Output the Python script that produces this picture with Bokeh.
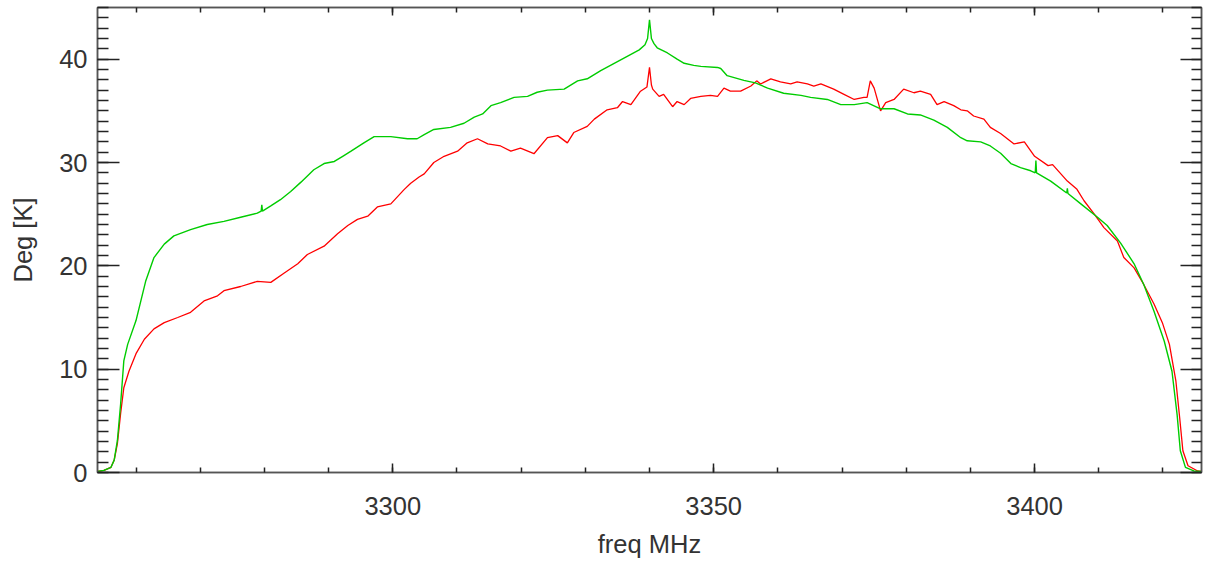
from bokeh.plotting import figure
from bokeh.models import LinearAxis, FixedTicker, Range1d, CustomJSTickFormatter
from bokeh.embed import file_html
from bokeh.resources import INLINE

# ---- data ----
green_freq = [3254.0, 3255.0, 3256.1, 3256.6, 3257.1, 3257.6, 3258.1, 3258.7, 3260.0, 3261.5,
              3262.8, 3264.4, 3265.9, 3268.5, 3271.1, 3273.7, 3276.3, 3278.9, 3279.5, 3279.6,
              3279.7, 3281.0, 3282.5, 3284.1, 3285.7, 3287.7, 3289.3, 3290.9, 3292.2, 3293.5,
              3295.5, 3297.1, 3299.7, 3302.3, 3303.8, 3304.9, 3306.4, 3309.0, 3311.1, 3312.7,
              3314.0, 3315.3, 3316.8, 3318.9, 3321.0, 3322.5, 3324.1, 3326.7, 3328.8, 3330.3,
              3332.4, 3334.5, 3336.6, 3338.4, 3339.3, 3339.7, 3340.0, 3340.3, 3340.7, 3341.2,
              3342.8, 3344.3, 3345.4, 3346.9, 3348.0, 3350.6, 3351.1, 3352.1, 3354.7, 3356.5,
              3358.4, 3360.9, 3363.6, 3365.1, 3367.7, 3369.8, 3371.9, 3373.9, 3376.0, 3378.1,
              3380.2, 3382.2, 3384.3, 3386.4, 3388.5, 3389.5, 3391.6, 3393.1, 3394.7, 3396.3,
              3397.8, 3399.4, 3400.1, 3400.2, 3400.3, 3402.5, 3405.0, 3405.1, 3405.2, 3407.2,
              3409.8, 3411.3, 3413.4, 3415.5, 3417.0, 3418.6, 3420.2, 3421.4, 3422.2, 3422.7,
              3423.5, 3424.8, 3426.0]
green_temp = [0.1, 0.2, 0.5, 1.2, 3.1, 6.6, 10.8, 12.4, 14.7, 18.5,
              20.8, 22.1, 22.9, 23.5, 24.0, 24.3, 24.7, 25.1, 25.3, 25.9,
              25.3, 25.8, 26.4, 27.2, 28.1, 29.3, 29.9, 30.1, 30.6, 31.1,
              31.9, 32.5, 32.5, 32.3, 32.3, 32.7, 33.2, 33.4, 33.8, 34.4,
              34.7, 35.5, 35.8, 36.3, 36.4, 36.8, 37.0, 37.1, 37.9, 38.1,
              38.9, 39.6, 40.3, 40.9, 41.4, 42.0, 43.8, 42.0, 41.5, 41.1,
              40.6, 40.0, 39.6, 39.4, 39.3, 39.2, 39.1, 38.4, 37.95, 37.7,
              37.2, 36.7, 36.5, 36.3, 36.1, 35.6, 35.6, 35.8, 35.2, 35.2,
              34.7, 34.6, 34.1, 33.4, 32.4, 32.1, 32.0, 31.6, 30.9, 29.9,
              29.5, 29.2, 29.0, 30.2, 29.0, 28.2, 27.05, 27.5, 27.0, 26.0,
              24.7, 23.9, 22.2, 20.2, 18.2, 15.6, 12.7, 9.8, 5.6, 2.1,
              0.5, 0.15, 0.1]

red_freq = [3254.0, 3255.0, 3256.1, 3256.6, 3257.1, 3257.6, 3258.1, 3258.9, 3260.0, 3261.3,
            3262.8, 3264.4, 3266.5, 3268.5, 3270.6, 3272.7, 3273.7, 3276.3, 3278.9, 3281.0,
            3283.1, 3285.2, 3286.7, 3289.3, 3291.4, 3293.0, 3294.5, 3296.1, 3297.6, 3299.7,
            3301.8, 3302.8, 3304.1, 3304.9, 3306.4, 3308.0, 3310.1, 3311.6, 3313.2, 3314.8,
            3316.8, 3318.4, 3319.9, 3322.0, 3324.1, 3325.7, 3327.2, 3328.2, 3330.3, 3331.4,
            3333.4, 3335.0, 3335.8, 3337.1, 3338.6, 3339.6, 3340.0, 3340.3, 3340.5, 3341.5,
            3342.2, 3343.6, 3344.3, 3345.4, 3346.4, 3348.0, 3349.5, 3350.6, 3351.6, 3352.6,
            3354.2, 3355.8, 3356.7, 3357.3, 3358.9, 3360.4, 3362.0, 3363.0, 3364.6, 3365.6,
            3366.7, 3368.7, 3370.3, 3371.9, 3373.4, 3373.9, 3374.4, 3375.0, 3376.0, 3376.8,
            3378.1, 3379.6, 3381.2, 3382.2, 3383.8, 3384.8, 3385.9, 3387.4, 3388.5, 3389.5,
            3390.5, 3392.1, 3393.1, 3394.7, 3396.8, 3398.4, 3400.0, 3402.1, 3402.8, 3405.1,
            3406.6, 3407.7, 3409.3, 3410.8, 3412.9, 3413.9, 3415.5, 3417.0, 3418.6, 3419.9,
            3421.0, 3422.0, 3422.6, 3423.1, 3423.9, 3425.4, 3426.0]
red_temp = [0.1, 0.2, 0.5, 1.2, 2.8, 5.7, 8.2, 9.8, 11.5, 12.9,
            13.9, 14.5, 15.0, 15.5, 16.6, 17.1, 17.6, 18.0, 18.5, 18.4,
            19.3, 20.2, 21.1, 21.9, 23.1, 23.9, 24.5, 24.8, 25.7, 26.0,
            27.4, 28.0, 28.6, 28.9, 30.0, 30.6, 31.1, 31.9, 32.3, 31.8,
            31.6, 31.1, 31.4, 30.85, 32.4, 32.6, 31.9, 32.9, 33.5, 34.2,
            35.1, 35.3, 35.9, 35.6, 36.9, 37.3, 39.2, 37.5, 37.1, 36.4,
            36.6, 35.4, 35.9, 35.6, 36.2, 36.4, 36.5, 36.4, 37.2, 36.9,
            36.9, 37.4, 37.9, 37.6, 38.1, 37.8, 37.6, 37.8, 37.6, 37.4,
            37.6, 37.1, 36.6, 36.1, 36.3, 36.3, 37.9, 37.2, 35.0, 35.8,
            36.1, 37.1, 36.75, 36.9, 36.6, 35.6, 35.9, 35.5, 35.1, 35.0,
            34.5, 34.2, 33.4, 32.8, 31.8, 32.0, 30.6, 29.7, 29.8, 28.2,
            27.4, 26.3, 25.0, 23.7, 22.4, 20.8, 19.8, 18.2, 16.3, 14.5,
            12.4, 8.9, 5.3, 2.1, 0.65, 0.15, 0.1]

x_ticks = [3300, 3350, 3400]
x_minor_ticks = [3260, 3270, 3280, 3290, 3300, 3310, 3320, 3330, 3340, 3350,
                 3360, 3370, 3380, 3390, 3400, 3410, 3420]
y_ticks = [0, 10, 20, 30, 40]
y_minor_ticks = list(range(0, 46))

FONT = "Liberation Sans"
FSIZE = "25.5px"
TXT = "#333333"
AX = "#555555"

p = figure(width=1203, height=561, output_backend="svg", toolbar_location=None,
           x_range=Range1d(3254, 3426), y_range=Range1d(0, 45),
           min_border_left=97, min_border_right=2, min_border_top=7, min_border_bottom=89,
           x_axis_label="freq MHz", y_axis_label="Deg [K]")
p.grid.visible = False
p.background_fill_color = "white"
p.border_fill_color = "white"
p.outline_line_color = AX
p.outline_line_width = 1.5

p.line(red_freq, red_temp, line_color="#ff0000", line_width=1.3)
p.line(green_freq, green_temp, line_color="#00cc00", line_width=1.4)


def style(ax, major_in, minor_in):
    ax.axis_line_color = AX
    ax.axis_line_width = 1.5
    ax.major_tick_line_color = "#222222"
    ax.minor_tick_line_color = "#222222"
    ax.major_tick_line_width = 1.5
    ax.minor_tick_line_width = 1.5
    ax.major_tick_in = major_in
    ax.major_tick_out = 0
    ax.minor_tick_in = minor_in
    ax.minor_tick_out = 0
    ax.major_label_text_font = FONT
    ax.major_label_text_font_size = FSIZE
    ax.major_label_text_color = TXT
    ax.axis_label_text_font = FONT
    ax.axis_label_text_font_size = FSIZE
    ax.axis_label_text_font_style = "normal"
    ax.axis_label_text_color = TXT


xa = p.xaxis[0]
xa.ticker = FixedTicker(ticks=x_ticks, minor_ticks=x_minor_ticks)
style(xa, 9, 5)
xa.major_label_standoff = 24
xa.axis_label_standoff = 12

ya = p.yaxis[0]
ya.ticker = FixedTicker(ticks=y_ticks, minor_ticks=y_minor_ticks)
style(ya, 22, 11)
ya.major_label_standoff = 10
ya.axis_label_standoff = 19

blank = CustomJSTickFormatter(code="return '';")

top = LinearAxis(ticker=FixedTicker(ticks=x_ticks, minor_ticks=x_minor_ticks), formatter=blank)
style(top, 8, 5)
top.major_label_standoff = 0
top.major_label_text_font_size = "1px"
p.add_layout(top, "above")

right = LinearAxis(ticker=FixedTicker(ticks=y_ticks, minor_ticks=y_minor_ticks), formatter=blank)
style(right, 21, 10)
right.major_label_standoff = 0
right.major_label_text_font_size = "1px"
p.add_layout(right, "right")

open("out.html", "w").write(file_html(p, INLINE))
